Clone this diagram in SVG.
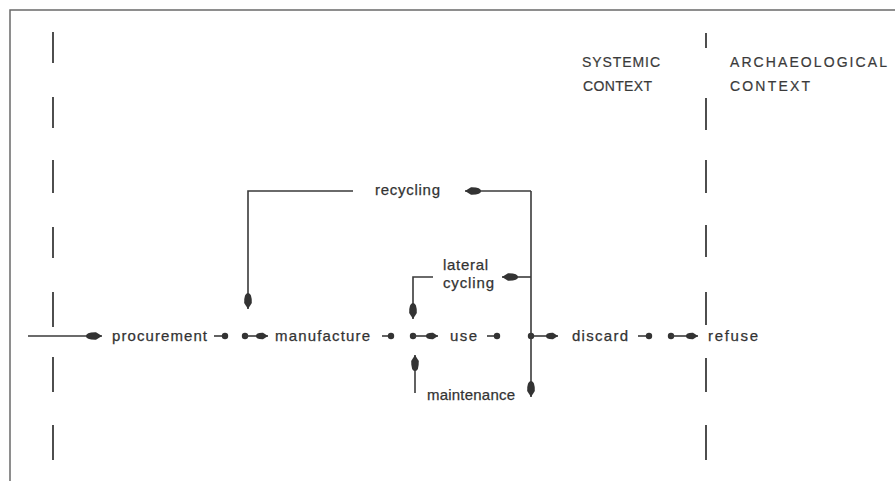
<svg xmlns="http://www.w3.org/2000/svg" width="895" height="481" viewBox="0 0 895 481">
<style>
.ln{stroke:#3a3a3a;stroke-width:1.6;fill:none}
.dash{stroke:#3a3a3a;stroke-width:1.8}
.frame{stroke:#6a6a6a;stroke-width:1.5;fill:none}
.t{font-family:"Liberation Sans",Arial,sans-serif;font-size:15px;fill:#333;stroke:#333;stroke-width:0.25}
.h{font-family:"Liberation Sans",Arial,sans-serif;font-size:14px;fill:#3a3a3a;stroke:#3a3a3a;stroke-width:0.2}
.dot{fill:#333}
</style>
<defs>
<marker id="ah" viewBox="-18 -6 20 12" refX="0" refY="0" markerWidth="20" markerHeight="12" markerUnits="userSpaceOnUse" orient="auto">
<path d="M0,0 L-6,-3.8 Q-16,-4 -16,0 Q-16,4 -6,3.8 Z" fill="#333"/>
</marker>
<marker id="as" viewBox="-14 -5 16 10" refX="0" refY="0" markerWidth="16" markerHeight="10" markerUnits="userSpaceOnUse" orient="auto">
<path d="M0,0 L-5,-3.2 Q-12,-3.4 -12,0 Q-12,3.4 -5,3.2 Z" fill="#333"/>
</marker>
</defs>
<rect width="895" height="481" fill="#fff"/>
<g id="frame">
<path class="frame" d="M10,481 L10,10 L895,10"/>
<g class="dash">
<line x1="53" y1="32" x2="53" y2="63"/>
<line x1="53" y1="97" x2="53" y2="128"/>
<line x1="53" y1="160" x2="53" y2="193"/>
<line x1="53" y1="227" x2="53" y2="258"/>
<line x1="53" y1="292" x2="53" y2="327"/>
<line x1="53" y1="357" x2="53" y2="392"/>
<line x1="53" y1="425" x2="53" y2="460"/>
</g>
<g class="dash">
<line x1="706" y1="33" x2="706" y2="48"/>
<line x1="706" y1="98" x2="706" y2="130"/>
<line x1="706" y1="160" x2="706" y2="193"/>
<line x1="706" y1="225" x2="706" y2="257"/>
<line x1="706" y1="292" x2="706" y2="325"/>
<line x1="706" y1="358" x2="706" y2="392"/>
<line x1="706" y1="425" x2="706" y2="460"/>
</g>
</g>
<g id="headers">
<text class="h" x="582" y="67" textLength="78" lengthAdjust="spacing">SYSTEMIC</text>
<text class="h" x="583" y="91" textLength="69" lengthAdjust="spacing">CONTEXT</text>
<text class="h" x="730" y="67" textLength="157" lengthAdjust="spacing">ARCHAEOLOGICAL</text>
<text class="h" x="730" y="91" textLength="80" lengthAdjust="spacing">CONTEXT</text>
</g>
<g id="procurement"><text class="t" x="112" y="341" textLength="95" lengthAdjust="spacing">procurement</text></g>
<g id="manufacture"><text class="t" x="275" y="341" textLength="95" lengthAdjust="spacing">manufacture</text></g>
<g id="use"><text class="t" x="450" y="341" textLength="27" lengthAdjust="spacing">use</text></g>
<g id="discard"><text class="t" x="572" y="341" textLength="56" lengthAdjust="spacing">discard</text></g>
<g id="refuse"><text class="t" x="708" y="341" textLength="50" lengthAdjust="spacing">refuse</text></g>
<g id="recycling"><text class="t" x="375" y="195" textLength="65" lengthAdjust="spacing">recycling</text></g>
<g id="lateral-cycling">
<text class="t" x="443" y="270" textLength="45" lengthAdjust="spacing">lateral</text>
<text class="t" x="443" y="288" textLength="51" lengthAdjust="spacing">cycling</text>
</g>
<g id="maintenance"><text class="t" x="427" y="400" textLength="88" lengthAdjust="spacing">maintenance</text></g>
<g id="connectors">
<path class="ln" d="M28,336 L102,336" marker-end="url(#ah)"/>
<path class="ln" d="M214,336 L225,336"/><circle class="dot" cx="225" cy="336" r="3.2"/>
<circle class="dot" cx="245" cy="336" r="3.2"/><path class="ln" d="M245,336 L268,336" marker-end="url(#as)"/>
<path class="ln" d="M382,336 L391,336"/><circle class="dot" cx="391" cy="336" r="3.2"/>
<circle class="dot" cx="413" cy="336" r="3.2"/><path class="ln" d="M413,336 L438,336" marker-end="url(#as)"/>
<path class="ln" d="M487,336 L497,336"/><circle class="dot" cx="497" cy="336" r="3.2"/>
<circle class="dot" cx="531" cy="336" r="3.2"/><path class="ln" d="M531,336 L558,336" marker-end="url(#as)"/>
<path class="ln" d="M638,336 L649,336"/><circle class="dot" cx="649" cy="336" r="3.2"/>
<circle class="dot" cx="671" cy="336" r="3.2"/><path class="ln" d="M671,336 L698,336" marker-end="url(#as)"/>
<path class="ln" d="M531,191 L531,397" marker-end="url(#ah)"/>
<path class="ln" d="M531,191 L465,191" marker-end="url(#ah)"/>
<path class="ln" d="M531,277 L502,277" marker-end="url(#ah)"/>
<path class="ln" d="M353,191 L248,191 L248,309" marker-end="url(#ah)"/>
<path class="ln" d="M433,277 L413,277 L413,319" marker-end="url(#ah)"/>
<path class="ln" d="M415,393 L415,355" marker-end="url(#ah)"/>
</g>
</svg>
